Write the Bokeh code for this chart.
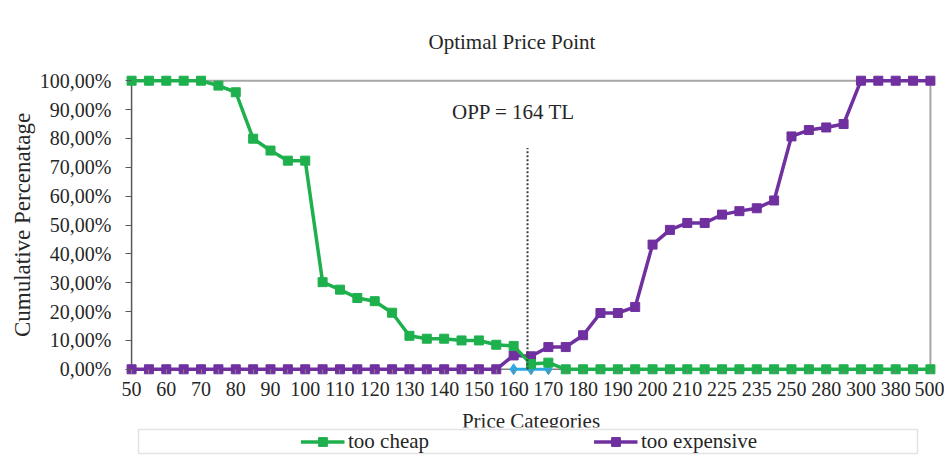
from bokeh.plotting import figure
from bokeh.layouts import column
from bokeh.models import (FactorRange, FixedTicker, Range1d, Legend, LegendItem,
                          ColumnDataSource, CustomJSTickFormatter, BoxAnnotation)
from bokeh.core.properties import value
from bokeh.embed import file_html
from bokeh.resources import INLINE

# ---------------- data ----------------
categories = ["50", "55", "60", "65", "70", "75", "80", "85", "90", "95",
              "100", "105", "110", "115", "120", "125", "130", "135", "140", "145",
              "150", "155", "160", "165", "170", "175", "180", "185", "190", "195",
              "200", "205", "210", "220", "225", "230", "235", "240", "250", "270",
              "280", "290", "300", "350", "380", "400", "500"]

# labels shown on the category axis (every other category is labelled)
x_tick_labels = ["50", "", "60", "", "70", "", "80", "", "90", "",
                 "100", "", "110", "", "120", "", "130", "", "140", "",
                 "150", "", "160", "", "170", "", "180", "", "190", "",
                 "200", "", "210", "", "225", "", "235", "", "250", "",
                 "280", "", "300", "", "380", "", "500"]

too_cheap = [100, 100, 100, 100, 100, 98.3, 96.0, 79.9, 75.8, 72.3,
             72.3, 30.2, 27.6, 24.7, 23.6, 19.6, 11.6, 10.6, 10.6, 10.0,
             10.0, 8.5, 8.1, 1.8, 2.3, 0, 0, 0, 0, 0,
             0, 0, 0, 0, 0, 0, 0, 0, 0, 0,
             0, 0, 0, 0, 0, 0, 0]

too_expensive = [0, 0, 0, 0, 0, 0, 0, 0, 0, 0,
                 0, 0, 0, 0, 0, 0, 0, 0, 0, 0,
                 0, 0, 4.8, 4.5, 7.7, 7.7, 11.8, 19.5, 19.5, 21.6,
                 43.2, 48.3, 50.7, 50.7, 53.6, 54.8, 55.8, 58.5, 80.7, 82.9,
                 83.8, 85.0, 100, 100, 100, 100, 100]

intersect_cats = ["160", "165", "170"]
intersect_vals = [0, 0, 0]

opp_value = 164
opp_base = "160"
opp_step = 5
opp_line_top = 76.7
opp_label_y = 89

y_ticks = [0, 10, 20, 30, 40, 50, 60, 70, 80, 90, 100]
y_tick_labels = ["0,00%", "10,00%", "20,00%", "30,00%", "40,00%", "50,00%",
                 "60,00%", "70,00%", "80,00%", "90,00%", "100,00%"]

title_text = "Optimal Price Point"
x_label = "Price Categories"
y_label = "Cumulative Percenatage"
opp_text = "OPP = 164 TL"
legend_labels = ["too cheap", "too expensive"]

# ---------------- style ----------------
FONT = "Liberation Serif"
GREEN = "#1FB04E"
PURPLE = "#7030A0"
BLUE = "#2CA9E1"
TEXT = "#262626"
BORDER = "#A6A6A6"

x_rng = FactorRange(factors=categories, range_padding=-0.15, range_padding_units="absolute")

p = figure(frame_width=811, frame_height=303,
           x_range=x_rng, y_range=Range1d(-2.5, 102.5),
           output_backend="svg", toolbar_location=None,
           min_border_left=125, min_border_right=8,
           min_border_top=73, min_border_bottom=75)
p.outline_line_color = None
p.xgrid.grid_line_color = None
p.ygrid.grid_line_color = None
p.background_fill_color = "white"
p.border_fill_color = "white"

p.title.text = title_text
p.title.align = "left"
p.title.offset = 303
p.title.text_font = FONT
p.title.text_font_size = "21px"
p.title.text_font_style = "normal"
p.title.text_color = TEXT
p.title.standoff = 40

# y axis
ya = p.yaxis[0]
ya.ticker = FixedTicker(ticks=y_ticks)
ya.major_label_overrides = dict(zip(y_ticks, y_tick_labels))
ya.major_tick_out = 0
ya.major_tick_in = 6
ya.minor_tick_out = 0
ya.minor_tick_in = 0
ya.axis_line_color = None
ya.major_tick_line_color = "#595959"
ya.major_tick_line_width = 1.2
ya.major_label_text_font = FONT
ya.major_label_text_font_size = "20px"
ya.major_label_text_color = TEXT
ya.major_label_standoff = 14
ya.axis_label = y_label
ya.axis_label_text_font = FONT
ya.axis_label_text_font_style = "normal"
ya.axis_label_text_font_size = "23px"
ya.axis_label_text_color = TEXT
ya.axis_label_standoff = 2

# x axis
xa = p.xaxis[0]
xa.formatter = CustomJSTickFormatter(args=dict(labels=x_tick_labels),
                                     code="return labels[index];")
xa.major_tick_out = -3
xa.major_tick_in = 7
xa.minor_tick_out = 0
xa.axis_line_color = None
xa.major_tick_line_color = "#7F7F7F"
xa.major_tick_line_width = 1.2
xa.major_label_text_font = FONT
xa.major_label_text_font_size = "20px"
xa.major_label_text_color = TEXT
xa.major_label_standoff = 5
xa.axis_label = x_label
xa.axis_label_text_font = FONT
xa.axis_label_text_font_style = "normal"
xa.axis_label_text_font_size = "21px"
xa.axis_label_text_color = TEXT
xa.axis_label_standoff = 10

# axis lines and plot-area border (drawn through the data scales)
p.line([categories[0], categories[0]], [y_ticks[0], y_ticks[-1]],
       line_color="#595959", line_width=1.5)
p.line([categories[0], categories[-1]], [y_ticks[0], y_ticks[0]],
       line_color="#7F7F7F", line_width=1.5)
p.line([categories[0], categories[-1]], [y_ticks[-1], y_ticks[-1]],
       line_color=BORDER, line_width=2)
p.line([categories[-1], categories[-1]], [y_ticks[0], y_ticks[-1]],
       line_color=BORDER, line_width=2)

src = ColumnDataSource(dict(cat=categories, cheap=too_cheap, exp=too_expensive))
isrc = ColumnDataSource(dict(cat=intersect_cats, v=intersect_vals))

# intersection marker line
p.line("cat", "v", source=isrc, line_color=BLUE, line_width=3)
p.scatter("cat", "v", source=isrc, marker="diamond", size=11, color=BLUE)

p.line("cat", "exp", source=src, line_color=PURPLE, line_width=3.5)
p.scatter("cat", "exp", source=src, marker="square", size=9, color=PURPLE)
p.line("cat", "cheap", source=src, line_color=GREEN, line_width=3.5)
p.scatter("cat", "cheap", source=src, marker="square", size=9, color=GREEN)

# OPP dotted line and label
opp_off = (opp_value - int(opp_base)) / opp_step
p.segment(x0=[(opp_base, opp_off)], y0=[0], x1=[(opp_base, opp_off)], y1=[opp_line_top],
          line_color="#404040", line_width=2, line_dash="2 2")
p.text(x=[opp_base], y=[opp_label_y], text=[opp_text], text_font=value(FONT),
       text_font_size="21px", text_color=TEXT, text_align="center",
       text_baseline="middle")

# ---------------- legend strip (boxed, overlapping the bottom of the chart) ----------------
lf = figure(frame_width=811, frame_height=28, output_backend="svg",
            x_range=x_rng, y_range=Range1d(-20, -10),
            toolbar_location=None, x_axis_location=None, y_axis_location=None,
            min_border_left=125, min_border_right=8,
            min_border_top=0, min_border_bottom=0,
            margin=(-24, 0, 0, 0))
lf.xgrid.grid_line_color = None
lf.ygrid.grid_line_color = None
lf.outline_line_color = None
lf.background_fill_color = "white"
lf.border_fill_color = "white"
lf.add_layout(BoxAnnotation(left=138, right=917, top=2, bottom=26,
                            left_units="canvas", right_units="canvas",
                            top_units="canvas", bottom_units="canvas",
                            fill_color="white", fill_alpha=1,
                            line_color=BORDER, line_width=1.5))
g_l = lf.line("cat", "cheap", source=src, line_color=GREEN, line_width=3.5)
g_s = lf.scatter("cat", "cheap", source=src, marker="square", size=9, color=GREEN)
e_l = lf.line("cat", "exp", source=src, line_color=PURPLE, line_width=3.5)
e_s = lf.scatter("cat", "exp", source=src, marker="square", size=9, color=PURPLE)
legend = Legend(items=[LegendItem(label=legend_labels[0], renderers=[g_l, g_s]),
                       LegendItem(label=legend_labels[1], renderers=[e_l, e_s])],
                location="center", orientation="horizontal",
                glyph_width=44, glyph_height=22, label_standoff=4,
                label_width=120, spacing=125, padding=0, margin=0,
                border_line_color=None, background_fill_alpha=0,
                label_text_font=FONT, label_text_font_size="21px",
                label_text_color=TEXT)
lf.add_layout(legend, "center")

layout = column(p, lf, spacing=0)
open("out.html", "w").write(file_html(layout, INLINE))
